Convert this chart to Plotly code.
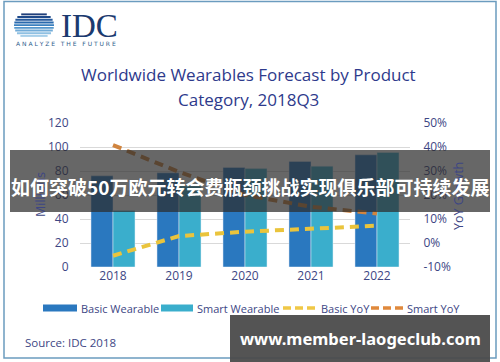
import plotly.graph_objects as go
import math

years = ["2018", "2019", "2020", "2021", "2022"]
basic_wearable = [76, 78.5, 83, 88, 93.5]
smart_wearable = [47, 67.5, 82, 84, 95.5]
basic_yoy = [-5.3, 2.9, 4.7, 5.8, 7.2]
smart_yoy = [40.8, 29.6, 20.0, 15.1, 12.3]
series_names = ["Basic Wearable", "Smart Wearable", "Basic YoY", "Smart YoY"]
left_ticks = [0, 20, 40, 60, 80, 100, 120]
right_ticks = [-10, 0, 10, 20, 30, 40, 50]

C_BASIC = "#2a78bf"
C_SMART = "#3aaecc"
C_BYOY = "#eac43c"
C_SYOY = "#d0843f"
TXT = "#3d4684"

W, H = 500, 362
def px(x): return x / W
def py(y): return 1 - y / H

fig = go.Figure()
fig.add_trace(go.Bar(x=years, y=basic_wearable, name=series_names[0], marker_color=C_BASIC))
fig.add_trace(go.Bar(x=years, y=smart_wearable, name=series_names[1], marker_color=C_SMART))
fig.add_trace(go.Scatter(x=years, y=basic_yoy, name=series_names[2], yaxis="y2", mode="lines",
                         line=dict(color=C_BYOY, width=4, dash="9px,6px")))
fig.add_trace(go.Scatter(x=years, y=smart_yoy, name=series_names[3], yaxis="y2", mode="lines",
                         line=dict(color=C_SYOY, width=4, dash="9px,6px")))

shapes = []
annotations = []

# border
shapes.append(dict(type="rect", xref="paper", yref="paper", x0=px(4), x1=px(496), y0=py(358), y1=py(1.5),
                   line=dict(color="#6b9cbf", width=1.5), fillcolor="rgba(0,0,0,0)", layer="below"))

# IDC logo stripes (decorative)
cx, cy, r = 34, 25, 12
stripe_cols = ["#1f3f7a", "#1f4a8a", "#24599c", "#2a6aae", "#3a80bf", "#5597cc", "#72acd8", "#8fc0e2", "#a8d0ea"]
for i in range(9):
    yc = 14 + i * 2.7
    dy = (yc - cy) / r
    half = r * math.sqrt(max(0.0, 1 - dy * dy))
    x0 = cx - max(half, 4) - 8
    x1 = cx + max(half, 4) + 8
    shapes.append(dict(type="rect", xref="paper", yref="paper", x0=px(x0), x1=px(x1),
                       y0=py(yc + 1.3), y1=py(yc - 0.6), line=dict(width=0), fillcolor=stripe_cols[i]))
annotations.append(dict(x=px(59), y=py(26), xref="paper", yref="paper", text="IDC", showarrow=False,
                        xanchor="left", yanchor="middle",
                        font=dict(family="Liberation Serif, DejaVu Serif, serif", size=33, color="#1b3a6f")))
annotations.append(dict(x=px(14), y=py(43.5), xref="paper", yref="paper",
                        text="A N A L Y Z E   T H E   F U T U R E", showarrow=False,
                        xanchor="left", yanchor="middle",
                        font=dict(family="DejaVu Sans", size=6, color="#2d5d8c")))

# title
for txt, yy in [("Worldwide Wearables Forecast by Product", 74), ("Category, 2018Q3", 99)]:
    annotations.append(dict(x=px(248), y=py(yy), xref="paper", yref="paper", text=txt, showarrow=False,
                            xanchor="center", yanchor="middle",
                            font=dict(family="Open Sans", size=17, color="#2e3a8c")))

# axis titles
annotations.append(dict(x=px(40), y=py(195), xref="paper", yref="paper", text="Millions", showarrow=False,
                        textangle=-90, xanchor="center", yanchor="middle",
                        font=dict(family="Open Sans", size=12.5, color=TXT)))
annotations.append(dict(x=px(459), y=py(196), xref="paper", yref="paper", text="YoY Growth", showarrow=False,
                        textangle=-90, xanchor="center", yanchor="middle",
                        font=dict(family="Open Sans", size=12.5, color=TXT)))

# custom legend
leg_y = 308
items = [
    (43, 77, 79, series_names[0], C_BASIC, "bar"),
    (161, 193, 195, series_names[1], C_SMART, "bar"),
    (283, 316, 319, series_names[2], "#f0c846", "line"),
    (371, 403, 405, series_names[3], "#e0893c", "line"),
]
for x0, x1, tx, name, col, kind in items:
    if kind == "bar":
        shapes.append(dict(type="rect", xref="paper", yref="paper", x0=px(x0), x1=px(x1),
                           y0=py(leg_y + 3.5), y1=py(leg_y - 3.5), line=dict(width=0), fillcolor=col))
    else:
        shapes.append(dict(type="line", xref="paper", yref="paper", x0=px(x0), x1=px(x1),
                           y0=py(leg_y), y1=py(leg_y), line=dict(color=col, width=3.5, dash="8px,4px")))
    annotations.append(dict(x=px(tx), y=py(leg_y), xref="paper", yref="paper", text=name, showarrow=False,
                            xanchor="left", yanchor="middle",
                            font=dict(family="Open Sans", size=11, color=TXT)))

# source
annotations.append(dict(x=px(23), y=py(342), xref="paper", yref="paper", text="Source: IDC 2018",
                        showarrow=False, xanchor="left", yanchor="middle",
                        font=dict(family="Open Sans", size=11.5, color=TXT)))

# overlay banner
shapes.append(dict(type="rect", xref="paper", yref="paper", x0=px(10), x1=px(490), y0=py(212), y1=py(150),
                   line=dict(width=0), fillcolor="rgba(45,45,45,0.72)", layer="above"))
annotations.append(dict(x=px(250), y=py(186), xref="paper", yref="paper",
                        text="<b>如何突破50万欧元转会费瓶颈挑战实现俱乐部可持续发展</b>", showarrow=False,
                        xanchor="center", yanchor="middle",
                        font=dict(family="Noto Sans CJK SC", size=19, color="white")))
# bottom-right box
shapes.append(dict(type="rect", xref="paper", yref="paper", x0=px(230), x1=px(490), y0=py(362), y1=py(315),
                   line=dict(width=0), fillcolor="rgba(75,75,75,0.95)", layer="above"))
annotations.append(dict(x=px(360), y=py(338), xref="paper", yref="paper",
                        text="<b>www.member-laogeclub.com</b>", showarrow=False,
                        xanchor="center", yanchor="middle",
                        font=dict(family="Noto Sans", size=16.5, color="white")))

fig.update_layout(
    width=W, height=H,
    margin=dict(l=0, r=0, t=0, b=0, pad=0, autoexpand=False),
    paper_bgcolor="white", plot_bgcolor="white",
    barmode="group", bargap=0.333, bargroupgap=0,
    showlegend=False,
    font=dict(family="Open Sans", color=TXT),
    xaxis=dict(domain=[px(80), px(410)], showgrid=False, showline=False, ticks="",
               tickfont=dict(size=12, color=TXT), automargin=False),
    yaxis=dict(domain=[py(267), py(123)], range=[0, 120], tickvals=left_ticks,
               showgrid=True, gridcolor="#d9d9d9", gridwidth=1, zeroline=False, automargin=False,
               tickfont=dict(size=12, color=TXT), ticks="outside", ticklen=8, tickcolor="rgba(0,0,0,0)"),
    yaxis2=dict(overlaying="y", side="right", range=[-10, 50], tickvals=right_ticks,
                ticktext=[f"{v}%" for v in right_ticks], showgrid=False, zeroline=False, automargin=False,
                tickfont=dict(size=12, color=TXT), ticks="outside", ticklen=10, tickcolor="rgba(0,0,0,0)"),
    shapes=shapes, annotations=annotations,
)

fig.write_html("out.html", config={"displayModeBar": False},
               post_script="document.body.style.margin='0';document.body.style.overflow='hidden';")
